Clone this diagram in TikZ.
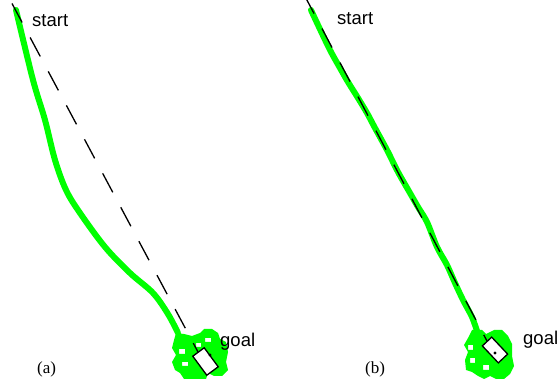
\documentclass[tikz,border=0pt]{standalone}
\usepackage{fontspec}
\setmainfont{Liberation Serif}
\newfontfamily\lsans{Liberation Sans}
\begin{document}
\begin{tikzpicture}[x=1pt,y=-1pt,
  trail/.style={draw={rgb,255:red,0;green,255;blue,0}, line width=6pt, line join=round, line cap=round},
  blob/.style={fill={rgb,255:red,0;green,255;blue,0}, even odd rule},
  straight/.style={draw=black, line width=1.3pt, dash pattern=on 21.5pt off 17pt},
  robot/.style={draw=black, line width=1.3pt, rectangle, inner sep=0pt, fill=white},
  lab/.style={font=\lsans\fontsize{18.5}{20}\selectfont, inner sep=0pt, anchor=base west},
  subcap/.style={font=\fontsize{17}{19}\selectfont, inner sep=0pt, anchor=base west}]
\useasboundingbox (0,0) rectangle (560,379);
% ---------- panel (a) ----------
\coordinate (sa) at (12,3.5);
\coordinate (ga) at (198,352);
\draw[trail] plot[smooth, tension=0.55] coordinates {(16,10) (33,80) (45,120) (55,160) (66,190) (80,213) (105,247) (130,273) (153,293) (168,314) (178,333)};
\path[blob] (176,333) -- (184,334) -- (192,336) -- (200,333) -- (204,329) -- (212,329) -- (218,333) -- (220,339) -- (226,342) -- (228,352) -- (226,362) -- (228,370) -- (222,376) -- (214,376) -- (208,373) -- (206,379) -- (184,379) -- (180,373) -- (175,370) -- (172,362) -- (176,355) -- (172,348) -- (174,340) -- cycle
  (179,349) rectangle (185,354)
  (182,362) rectangle (188,366)
  (205,338) rectangle (211,342)
  (196,343) rectangle (201,347);
\draw[straight] (sa) -- (ga);
\node[robot, minimum width=23.6pt, minimum height=14.2pt, rotate=-53.6] (ra) at (205.5,361.5) {};
\fill (210,355) circle (1.7pt);
\node[lab] (starta) at (32,27) {start};
\node[lab] (goala) at (220,347) {goal};
\node[subcap] (capa) at (37,374) {(a)};
% ---------- panel (b) ----------
\coordinate (sb) at (304,-5.5);
\coordinate (gb) at (487,341);
\draw[trail] plot[smooth, tension=0.5] coordinates {(311,10) (318,25) (330,50) (340,68) (348,82) (358,98) (367,113) (375,128) (387,150) (398,172) (410,193) (418,207) (427,222) (437,247) (447,265) (455,283) (463,300) (472,317) (477,331)};
\path[blob] (472,330) -- (482,330) -- (486,334) -- (494,330) -- (502,330) -- (508,336) -- (512,344) -- (512,356) -- (514,366) -- (510,374) -- (504,379) -- (496,379) -- (490,376) -- (484,379) -- (478,376) -- (472,372) -- (466,370) -- (465,360) -- (468,352) -- (464,345) -- (468,338) -- cycle
  (468,345) rectangle (473,350)
  (470,358) rectangle (475,363)
  (483,365) rectangle (489,370);
\draw[straight] (sb) -- (gb);
\node[robot, minimum width=23.3pt, minimum height=12.8pt, rotate=-46.7] (rb) at (495,350) {};
\fill (495,353) circle (1.7pt);
\node[lab] (startb) at (337,25) {start};
\node[lab] (goalb) at (523,345) {goal};
\node[subcap] (capb) at (365,374) {(b)};
\end{tikzpicture}
\end{document}
